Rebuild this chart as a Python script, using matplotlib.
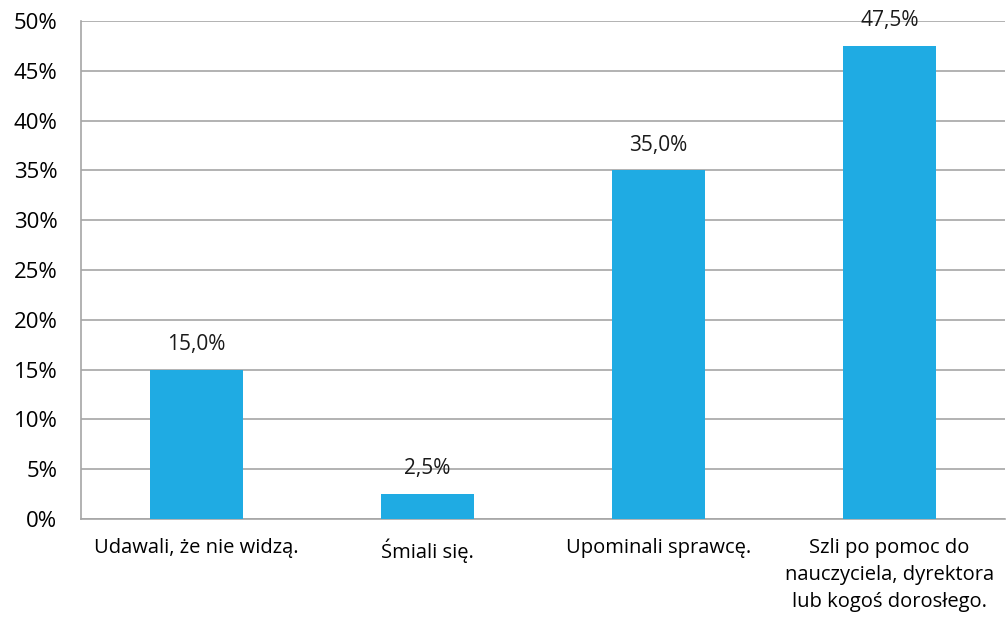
import numpy as np
import matplotlib
matplotlib.use('Agg')
import matplotlib.pyplot as plt
from matplotlib.ticker import MultipleLocator, FuncFormatter

categories = ['Udawali, że nie widzą.', 'Śmiali się.', 'Upominali sprawcę.',
              'Szli po pomoc do\nnauczyciela, dyrektora\nlub kogoś dorosłego.']
values = [15.0, 2.5, 35.0, 47.5]

plt.rcParams['font.family'] = ['Open Sans', 'DejaVu Sans']

fig = plt.figure(figsize=(10.07, 6.21), dpi=100)
ax = fig.add_axes([0.0804, 0.1643, 0.9176, 0.8017])

x = np.arange(len(categories))
ax.bar(x, values, width=0.4, color='#1FABE3', zorder=3)
for xi, v in zip(x, values):
    ax.text(xi, v + 1.5, f'{v:.1f}%'.replace('.', ','), ha='center', va='bottom',
            fontsize=15, color='#1a1a1a', zorder=4)

ax.set_xlim(-0.5, len(categories) - 0.5)
ax.set_ylim(0, 50)
ax.yaxis.set_major_locator(MultipleLocator(5))
ax.yaxis.set_major_formatter(FuncFormatter(lambda v, p: f'{v:.0f}%'))
ax.set_xticks(x)
ax.set_xticklabels(categories, fontsize=14.5, linespacing=1.45)
ax.tick_params(axis='y', labelsize=16, length=0, pad=17)
ax.tick_params(axis='x', length=0, pad=14)
ax.grid(axis='y', color='#a6a6a6', linewidth=1.2, zorder=0)
for s in ['top', 'right']:
    ax.spines[s].set_visible(False)
for s in ['left', 'bottom']:
    ax.spines[s].set_color('#a6a6a6')
    ax.spines[s].set_linewidth(1.2)

fig.savefig('out.png', dpi=100)
